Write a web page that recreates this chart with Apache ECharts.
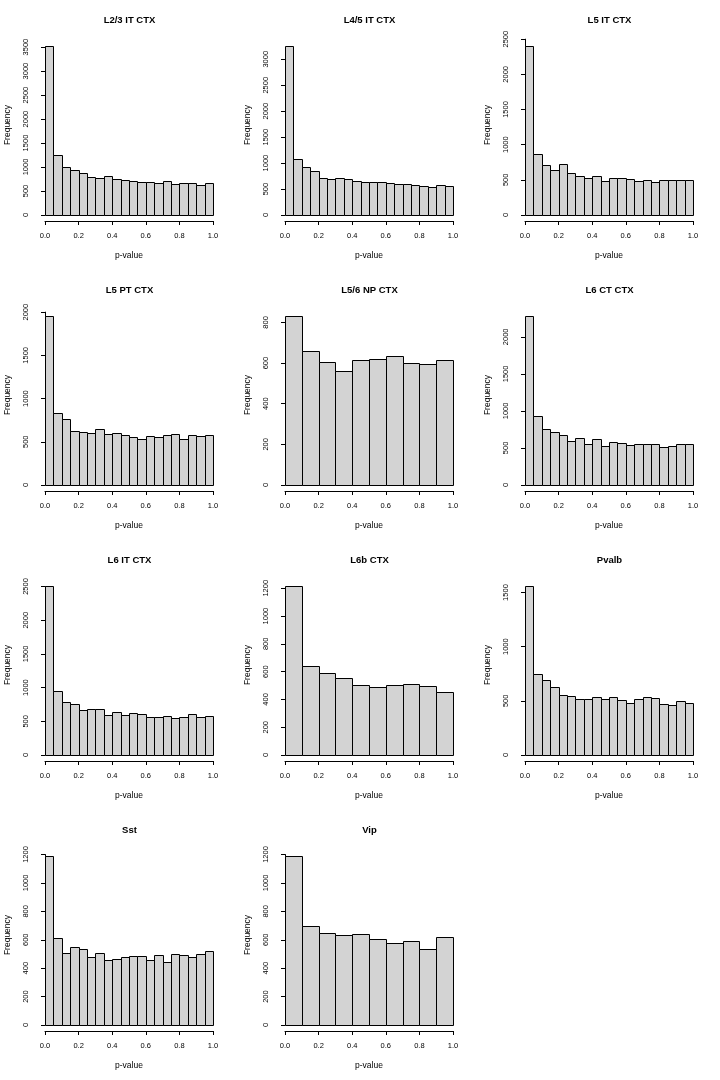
<!DOCTYPE html>
<html>
<head>
<meta charset="utf-8">
<script src="https://cdn.jsdelivr.net/npm/echarts@6/dist/echarts.min.js"></script>
<style>
html,body{margin:0;padding:0;background:#fff;}
#chart{width:720px;height:1080px;}
</style>
</head>
<body>
<div id="chart"></div>
<script>
// Panel titles (cell types)
const cellTypes = ['L2/3 IT CTX','L4/5 IT CTX','L5 IT CTX','L5 PT CTX','L5/6 NP CTX','L6 CT CTX','L6 IT CTX','L6b CTX','Pvalb','Sst','Vip'];

// Histogram counts per cell type (bins spanning p-value 0..1)
const l23ItCtx = [3533,1245,1000,932,876,800,779,820,744,723,716,688,688,661,702,640,675,668,619,661];
const l45ItCtx = [3265,1073,919,848,720,688,707,694,649,630,636,636,611,591,591,578,566,546,572,559];
const l5ItCtx  = [2410,873,716,645,721,602,555,531,560,489,522,522,512,484,503,474,498,498,493,498];
const l5PtCtx  = [1961,838,761,625,618,602,653,591,602,579,560,529,571,556,583,595,529,583,571,575];
const l56NpCtx = [834,657,604,563,614,621,636,598,593,613];
const l6CtCtx  = [2288,937,757,721,680,595,640,559,617,532,577,572,536,559,550,554,518,527,550,550];
const l6ItCtx  = [2515,955,787,757,673,688,688,594,644,589,619,604,569,559,579,545,559,609,569,584];
const l6bCtx   = [1220,644,593,557,504,490,504,511,495,456];
const pvalb    = [1565,749,696,628,558,548,514,521,539,514,536,511,484,514,536,524,468,465,496,481];
const sst      = [1193,613,509,552,538,479,505,460,462,481,486,486,460,491,441,498,491,481,498,521];
const vip      = [1193,700,650,636,639,608,580,594,538,622];

// Y-axis tick labels: last labelled tick and step per panel
const yTickMax  = [3500,3000,2500,2000,800,2000,2500,1200,1500,1200,1200];
const yTickStep = [500,500,500,500,200,500,500,200,500,200,200];
// X-axis tick labels
const xTickLabels = ['0.0','0.2','0.4','0.6','0.8','1.0'];

const xAxisTitle = 'p-value';
const yAxisTitle = 'Frequency';

const counts = [l23ItCtx,l45ItCtx,l5ItCtx,l5PtCtx,l56NpCtx,l6CtCtx,l6ItCtx,l6bCtx,pvalb,sst,vip];

const FONT = 'Liberation Sans, Arial, Helvetica, sans-serif';
const chart = echarts.init(document.getElementById('chart'), null, {renderer: 'canvas'});

const grids = [], xAxes = [], yAxes = [], series = [], titles = [], graphics = [];

function renderBar(params, api) {
  const p0 = api.coord([api.value(0), api.value(2)]);
  const p1 = api.coord([api.value(1), 0]);
  return {
    type: 'rect',
    shape: {x: Math.round(p0[0]) + 0.5, y: Math.round(p0[1]) + 0.5,
            width: Math.round(p1[0]) - Math.round(p0[0]), height: Math.round(p1[1]) - Math.round(p0[1])},
    style: {fill: '#d3d3d3', stroke: '#000', lineWidth: 1}
  };
}

counts.forEach(function (vals, i) {
  const col = i % 3, row = Math.floor(i / 3);
  const cx = col * 240, cy = row * 270;
  const dataMax = Math.max.apply(null, vals);
  const zeroY = cy + 215;
  const plotH = 169.5; // pixel height of tallest bar
  const top = zeroY - plotH * yTickMax[i] / dataMax;
  grids.push({left: cx + 45, top: top, width: 168, height: zeroY - top, containLabel: false});
  xAxes.push({
    type: 'value', gridIndex: i, min: 0, max: 1, interval: 0.2, offset: 6,
    axisLine: {show: true, onZero: false, lineStyle: {color: '#000', width: 1}},
    axisTick: {show: true, length: 4, lineStyle: {color: '#000', width: 1}},
    axisLabel: {show: true, margin: 11, fontSize: 7.5, color: '#000', fontFamily: FONT,
      formatter: function (v) { return xTickLabels[Math.round(v / 0.2)]; }},
    splitLine: {show: false},
    name: xAxisTitle, nameLocation: 'middle', nameGap: 30,
    nameTextStyle: {fontSize: 8.5, color: '#000', fontFamily: FONT}
  });
  yAxes.push({
    type: 'value', gridIndex: i, min: 0, max: yTickMax[i], interval: yTickStep[i], offset: 6,
    axisLine: {show: true, lineStyle: {color: '#000', width: 1}},
    axisTick: {show: true, length: 4, lineStyle: {color: '#000', width: 1}},
    axisLabel: {show: true, rotate: 90, margin: 9, fontSize: 7.5, color: '#000', fontFamily: FONT,
      formatter: function (v) { return String(v); }},
    splitLine: {show: false}
  });
  const n = vals.length;
  series.push({
    type: 'custom', xAxisIndex: i, yAxisIndex: i, clip: false,
    renderItem: renderBar,
    encode: {x: [0, 1], y: 2},
    data: vals.map(function (v, k) { return [k / n, (k + 1) / n, v]; })
  });
  titles.push({
    text: cellTypes[i], left: cx + 129.5, top: cy + 15, textAlign: 'center', padding: 0,
    textStyle: {fontSize: 9.5, fontWeight: 'bold', color: '#000', fontFamily: FONT}
  });
  graphics.push({
    type: 'text', x: cx + 8, y: cy + 125, rotation: Math.PI / 2,
    style: {text: yAxisTitle, fontSize: 8.5, fontFamily: FONT, fill: '#000', align: 'center', verticalAlign: 'middle'}
  });
});

chart.setOption({
  backgroundColor: '#fff',
  animation: false,
  title: titles,
  grid: grids,
  xAxis: xAxes,
  yAxis: yAxes,
  series: series,
  graphic: graphics
});
</script>
</body>
</html>
